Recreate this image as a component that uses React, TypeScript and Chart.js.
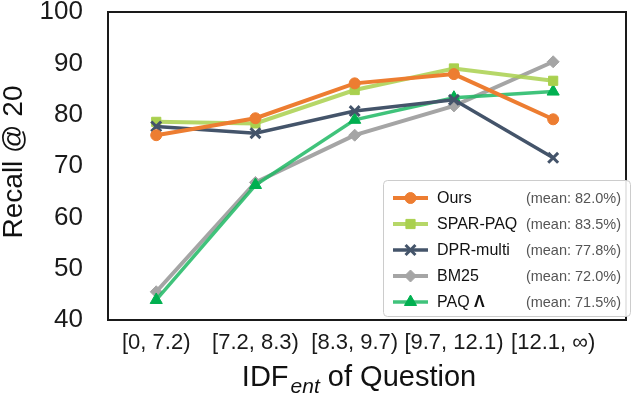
import React, { useEffect, useRef } from 'react';
import { Chart, registerables } from 'chart.js';

Chart.register(...registerables);

// ---- Data ----
const categories = ['[0, 7.2)', '[7.2, 8.3)', '[8.3, 9.7)', '[9.7, 12.1)', '[12.1, ∞)'];
const ours = [76.0, 79.3, 86.1, 87.9, 79.1];
const sparPaq = [78.6, 78.3, 84.8, 89.0, 86.6];
const dprMulti = [77.7, 76.4, 80.7, 82.9, 71.6];
const bm25 = [45.5, 66.8, 76.0, 81.7, 90.3];
const paq = [43.9, 66.3, 79.0, 83.3, 84.5];
const seriesNames = ['Ours', 'SPAR-PAQ', 'DPR-multi', 'BM25', 'PAQ'];
const meanLabels = ['(mean: 82.0%)', '(mean: 83.5%)', '(mean: 77.8%)', '(mean: 72.0%)', '(mean: 71.5%)'];
const yMin = 40;
const yMax = 100;
const yStep = 10;

// ---- Styles ----
const FONT = '"Liberation Sans", Arial, Helvetica, sans-serif';
const styles = [
  { line: '#ED7D31', marker: '#ED7D31', point: 'circle', r: 5.5, lw: 4, pbw: 1, order: 1 },
  { line: 'rgba(169,208,78,0.85)', marker: '#A9D04E', point: 'rect', r: 6.5, lw: 4, pbw: 1, order: 3 },
  { line: '#44546A', marker: '#44546A', point: 'crossRot', r: 7, lw: 3.5, pbw: 3, order: 2 },
  { line: '#A5A5A5', marker: '#A5A5A5', point: 'rectRot', r: 6, lw: 4, pbw: 1, order: 5 },
  { line: 'rgba(30,185,100,0.85)', marker: '#00B050', point: 'triangle', r: 7, lw: 3.5, pbw: 1, order: 4 },
];
const seriesData = [ours, sparPaq, dprMulti, bm25, paq];

function drawMarker(ctx: CanvasRenderingContext2D, style: string, x: number, y: number, r: number, color: string, bw: number) {
  ctx.save();
  ctx.fillStyle = color;
  ctx.strokeStyle = color;
  ctx.lineWidth = bw;
  ctx.beginPath();
  if (style === 'circle') {
    ctx.arc(x, y, r, 0, Math.PI * 2);
    ctx.closePath();
    ctx.fill();
    ctx.stroke();
  } else if (style === 'rect') {
    const s = r * Math.SQRT1_2;
    ctx.rect(x - s, y - s, 2 * s, 2 * s);
    ctx.fill();
    ctx.stroke();
  } else if (style === 'rectRot') {
    ctx.moveTo(x, y - r);
    ctx.lineTo(x + r, y);
    ctx.lineTo(x, y + r);
    ctx.lineTo(x - r, y);
    ctx.closePath();
    ctx.fill();
    ctx.stroke();
  } else if (style === 'triangle') {
    ctx.moveTo(x, y - r);
    ctx.lineTo(x + r * 0.866, y + r * 0.5);
    ctx.lineTo(x - r * 0.866, y + r * 0.5);
    ctx.closePath();
    ctx.fill();
    ctx.stroke();
  } else if (style === 'crossRot') {
    const d = r * Math.SQRT1_2;
    ctx.moveTo(x - d, y - d);
    ctx.lineTo(x + d, y + d);
    ctx.moveTo(x - d, y + d);
    ctx.lineTo(x + d, y - d);
    ctx.stroke();
  }
  ctx.restore();
}

const decorPlugin = {
  id: 'decor',
  beforeDatasetsDraw(chart: any) {
    const { ctx, chartArea } = chart;
    ctx.save();
    ctx.strokeStyle = '#1a1a1a';
    ctx.lineWidth = 2;
    ctx.strokeRect(chartArea.left, chartArea.top, chartArea.right - chartArea.left, chartArea.bottom - chartArea.top);
    ctx.restore();
  },
  afterDraw(chart: any) {
    const ctx: CanvasRenderingContext2D = chart.ctx;
    ctx.save();
    // Legend box
    const bx = 383.5, by = 180.5, bw = 247, bh = 136;
    ctx.beginPath();
    (ctx as any).roundRect(bx, by, bw, bh, 4);
    ctx.fillStyle = 'rgba(255,255,255,0.9)';
    ctx.fill();
    ctx.strokeStyle = '#cccccc';
    ctx.lineWidth = 1;
    ctx.stroke();

    for (let i = 0; i < seriesNames.length; i++) {
      const st = styles[i];
      const y = 198 + i * 26;
      ctx.beginPath();
      ctx.strokeStyle = st.line;
      ctx.lineWidth = st.lw;
      ctx.moveTo(393, y);
      ctx.lineTo(428, y);
      ctx.stroke();
      drawMarker(ctx, st.point, 410.5, y, st.r, st.marker, st.pbw);

      ctx.fillStyle = '#111111';
      ctx.textBaseline = 'middle';
      ctx.textAlign = 'left';
      ctx.font = `16px ${FONT}`;
      ctx.fillText(seriesNames[i], 437, y + 1);
      if (i === 4) {
        const w = ctx.measureText(seriesNames[i] + ' ').width;
        ctx.font = `bold 16px ${FONT}`;
        ctx.fillText('Λ', 437 + w, y + 1);
      }
      ctx.font = `14.5px ${FONT}`;
      ctx.fillStyle = '#555555';
      ctx.textAlign = 'right';
      ctx.fillText(meanLabels[i], 621, y + 1);
    }

    // X title with subscript
    ctx.fillStyle = '#111111';
    ctx.textAlign = 'left';
    ctx.textBaseline = 'alphabetic';
    const big = `29px ${FONT}`;
    const small = `italic 21px ${FONT}`;
    ctx.font = big;
    const w1 = ctx.measureText('IDF').width;
    ctx.font = small;
    const w2 = ctx.measureText('ent').width;
    ctx.font = big;
    const w3 = ctx.measureText(' of Question').width;
    const gap = 2;
    const total = w1 + gap + w2 + w3;
    const x0 = 359 - total / 2;
    const base = 386;
    ctx.font = big;
    ctx.fillText('IDF', x0, base);
    ctx.font = small;
    ctx.fillText('ent', x0 + w1 + gap, base + 7);
    ctx.font = big;
    ctx.fillText(' of Question', x0 + w1 + gap + w2, base);

    // Y title
    ctx.save();
    ctx.translate(22, 162);
    ctx.rotate(-Math.PI / 2);
    ctx.textAlign = 'center';
    ctx.font = `28px ${FONT}`;
    ctx.fillText('Recall @ 20', 0, 0);
    ctx.restore();

    ctx.restore();
  },
};

export default function App() {
  const canvasRef = useRef<HTMLCanvasElement | null>(null);

  useEffect(() => {
    document.body.style.margin = '0';
    const canvas = canvasRef.current;
    if (!canvas) return;
    const datasets = seriesNames.map((name, i) => ({
      label: name,
      data: seriesData[i].map((v, j) => ({ x: j, y: v })),
      borderColor: styles[i].line,
      backgroundColor: styles[i].marker,
      borderWidth: styles[i].lw,
      pointStyle: styles[i].point,
      pointRadius: styles[i].r,
      pointHoverRadius: styles[i].r,
      pointBackgroundColor: styles[i].marker,
      pointBorderColor: styles[i].marker,
      pointBorderWidth: styles[i].pbw,
      tension: 0,
      fill: false,
      order: styles[i].order,
    }));

    const chart = new Chart(canvas, {
      type: 'line',
      data: { datasets },
      options: {
        animation: false,
        responsive: false,
        devicePixelRatio: 1,
        events: [],
        layout: { padding: { top: 12, right: 2, left: 0, bottom: 0 } },
        plugins: {
          legend: { display: false },
          tooltip: { enabled: false },
          title: { display: false },
        },
        scales: {
          x: {
            type: 'linear',
            min: -0.486,
            max: 4.734,
            grid: { display: false, drawTicks: false },
            border: { display: false },
            afterBuildTicks: (scale: any) => {
              scale.ticks = categories.map((_, i) => ({ value: i }));
            },
            afterFit: (scale: any) => {
              scale.height = 78;
              scale.paddingLeft = 0;
              scale.paddingRight = 0;
            },
            ticks: {
              autoSkip: false,
              maxRotation: 0,
              minRotation: 0,
              padding: 10,
              color: '#1a1a1a',
              font: { family: FONT, size: 22 },
              callback: (v: any) => categories[Math.round(Number(v))] ?? '',
            },
          },
          y: {
            type: 'linear',
            min: yMin,
            max: yMax,
            grid: { display: false, drawTicks: false },
            border: { display: false },
            afterFit: (scale: any) => {
              scale.width = 108;
              scale.paddingTop = 0;
              scale.paddingBottom = 0;
            },
            ticks: {
              stepSize: yStep,
              padding: 25,
              color: '#1a1a1a',
              font: { family: FONT, size: 26 },
            },
          },
        },
      },
      plugins: [decorPlugin],
    } as any);

    return () => {
      chart.destroy();
    };
  }, []);

  return (
    <div style={{ width: 636, height: 398, position: 'relative' }}>
      <canvas ref={canvasRef} width={636} height={398} style={{ display: 'block' }} />
    </div>
  );
}
